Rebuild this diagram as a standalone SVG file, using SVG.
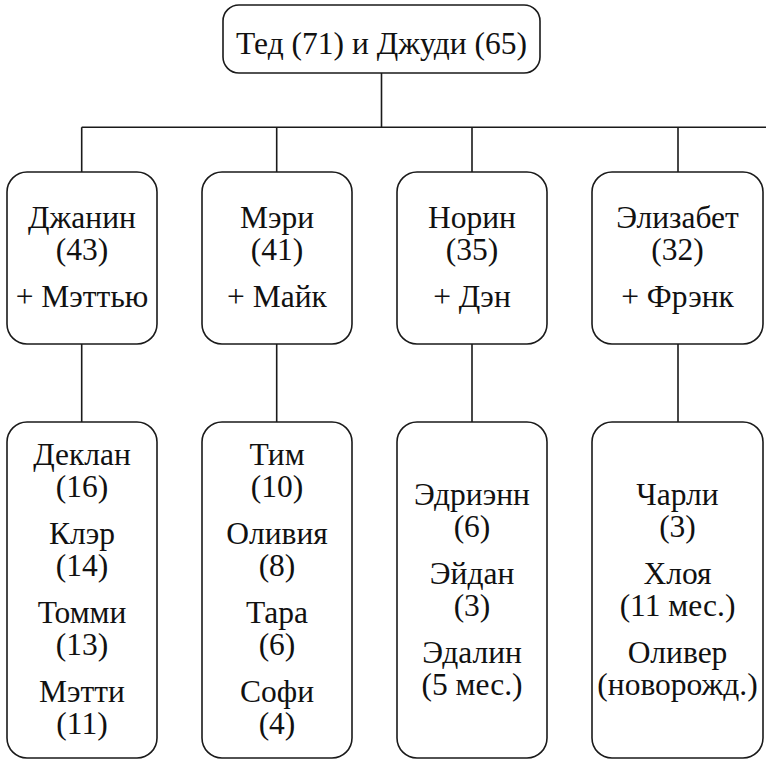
<svg xmlns="http://www.w3.org/2000/svg" width="766" height="760" viewBox="0 0 766 760">
<style>
.box{fill:#fff;stroke:#1a1a1a;stroke-width:1.6}
.ln{fill:none;stroke:#1a1a1a;stroke-width:1.6}
.t text{font-family:'Liberation Serif',serif;font-size:31.5px;fill:#111;text-anchor:middle}
</style>
<rect width="766" height="760" fill="#fff"/>
<g id="connectors">
<path class="ln" d="M381.5 73V127.3M81.7 127.3H766M81.7 127.3V172M276.7 127.3V172M472 127.3V172M678 127.3V172"/>
<path class="ln" d="M81.7 344V422M276.7 344V422M472 344V422M678 344V422"/>
</g>
<g class="t" style="font-family:'Liberation Serif',serif">
<g id="root">
<rect class="box" x="223" y="5" width="317" height="68" rx="16"/>
<text x="381.5" y="54">Тед (71) и Джуди (65)</text>
</g>
<g id="janine">
<rect class="box" x="7" y="172" width="150" height="172" rx="20"/>
<text x="82" y="228">Джанин</text><text x="82" y="260">(43)</text><text x="82" y="307">+ Мэттью</text>
</g>
<g id="mary">
<rect class="box" x="202" y="172" width="150" height="172" rx="20"/>
<text x="277" y="228">Мэри</text><text x="277" y="260">(41)</text><text x="277" y="307">+ Майк</text>
</g>
<g id="noreen">
<rect class="box" x="397" y="172" width="150" height="172" rx="20"/>
<text x="472" y="228">Норин</text><text x="472" y="260">(35)</text><text x="472" y="307">+ Дэн</text>
</g>
<g id="elizabeth">
<rect class="box" x="592" y="172" width="171" height="172" rx="20"/>
<text x="677.5" y="228">Элизабет</text><text x="677.5" y="260">(32)</text><text x="677.5" y="307">+ Фрэнк</text>
</g>
<g id="kids-janine">
<rect class="box" x="7" y="422" width="150" height="336" rx="20"/>
<text x="82" y="465">Деклан</text><text x="82" y="497">(16)</text>
<text x="82" y="544">Клэр</text><text x="82" y="576">(14)</text>
<text x="82" y="623">Томми</text><text x="82" y="655">(13)</text>
<text x="82" y="702">Мэтти</text><text x="82" y="734">(11)</text>
</g>
<g id="kids-mary">
<rect class="box" x="202" y="422" width="150" height="336" rx="20"/>
<text x="277" y="465">Тим</text><text x="277" y="497">(10)</text>
<text x="277" y="544">Оливия</text><text x="277" y="576">(8)</text>
<text x="277" y="623">Тара</text><text x="277" y="655">(6)</text>
<text x="277" y="702">Софи</text><text x="277" y="734">(4)</text>
</g>
<g id="kids-noreen">
<rect class="box" x="397" y="422" width="150" height="336" rx="20"/>
<text x="472" y="505">Эдриэнн</text><text x="472" y="537">(6)</text>
<text x="472" y="584">Эйдан</text><text x="472" y="616">(3)</text>
<text x="472" y="663">Эдалин</text><text x="472" y="695">(5 мес.)</text>
</g>
<g id="kids-elizabeth">
<rect class="box" x="592" y="422" width="171" height="336" rx="20"/>
<text x="677.5" y="505">Чарли</text><text x="677.5" y="537">(3)</text>
<text x="677.5" y="584">Хлоя</text><text x="677.5" y="616">(11 мес.)</text>
<text x="677.5" y="663">Оливер</text><text x="677.5" y="695">(новорожд.)</text>
</g>
</g>
</svg>
